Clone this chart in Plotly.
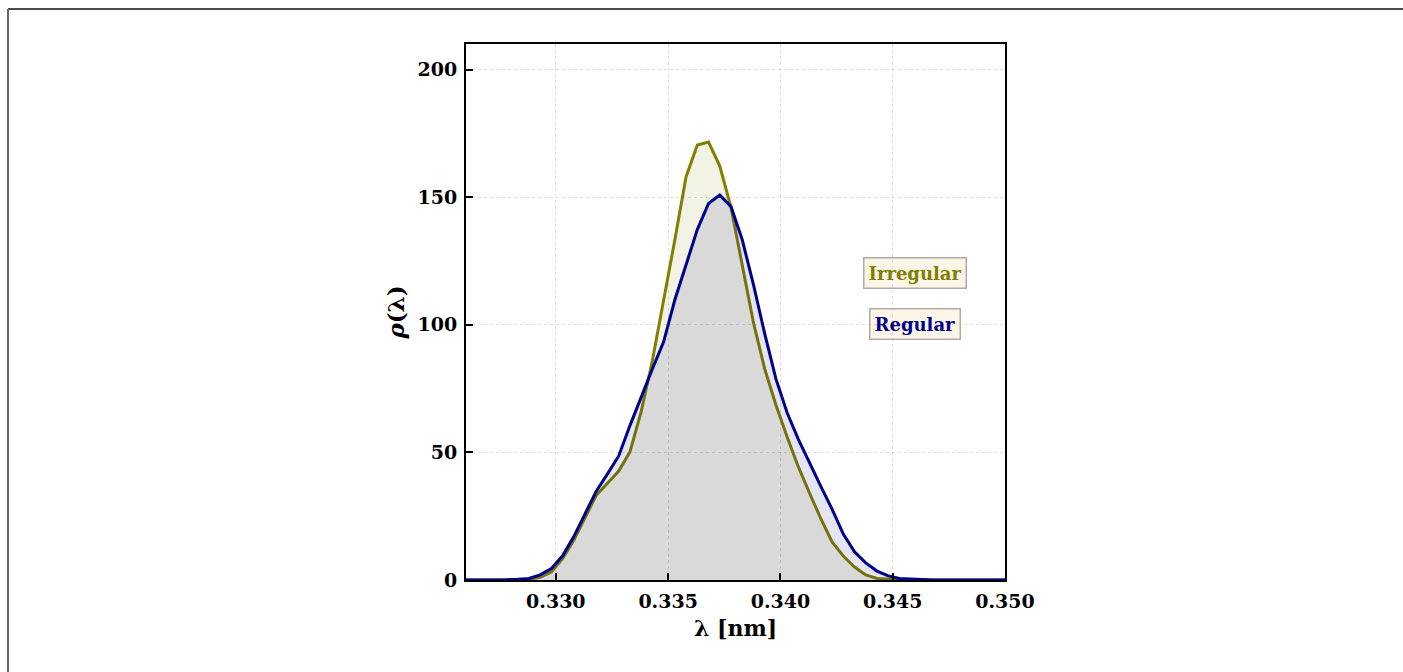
import plotly.graph_objects as go

# Wavelength grid [nm]
lam = [0.3258 + 0.0005 * k for k in range(50)]
lam = [round(v, 4) for v in lam]

# Density values
irregular = [0.0, 0.0, 0.0, 0.0, 0.05, 0.1, 0.3, 1.1, 3.1, 8.4,
             15.6, 24.4, 33.2, 37.9, 42.7, 50.2, 66.0, 86.0, 109.0, 133.3,
             158.0, 170.4, 171.6, 162.2, 146.0, 124.0, 100.8, 82.7, 68.6, 56.0,
             44.3, 34.0, 24.0, 14.9, 9.4, 5.1, 2.0, 0.6, 0.2, 0.05,
             0.0, 0.0, 0.0, 0.0, 0.0, 0.0, 0.0, 0.0, 0.0, 0.0]
regular = [0.0, 0.0, 0.0, 0.0, 0.1, 0.3, 0.6, 2.0, 4.5, 9.5,
           17.0, 25.9, 34.8, 41.6, 48.6, 60.5, 71.8, 82.7, 93.3, 109.8,
           123.5, 137.3, 147.5, 150.8, 146.3, 133.3, 115.7, 96.5, 78.8, 65.5,
           55.1, 45.6, 36.7, 27.8, 18.0, 11.0, 6.7, 3.5, 1.6, 0.6,
           0.3, 0.1, 0.0, 0.0, 0.0, 0.0, 0.0, 0.0, 0.0, 0.0]

x_ticks = [0.330, 0.335, 0.340, 0.345, 0.350]
x_tick_labels = ["0.330", "0.335", "0.340", "0.345", "0.350"]
y_ticks = [0, 50, 100, 150, 200]
y_tick_labels = ["0", "50", "100", "150", "200"]

series_names = ["Irregular", "Regular"]

FONT = "DejaVu Serif"

fig = go.Figure()
fig.add_trace(go.Scatter(
    x=lam, y=irregular, mode="lines", name=series_names[0],
    line=dict(color="#808000", width=3),
    fill="tozeroy", fillcolor="rgba(128,128,0,0.1)", showlegend=False))
fig.add_trace(go.Scatter(
    x=lam, y=regular, mode="lines", name=series_names[1],
    line=dict(color="#00008B", width=3),
    fill="tozeroy", fillcolor="rgba(0,0,128,0.1)", showlegend=False))

axis_common = dict(
    showline=True, linecolor="black", linewidth=2, mirror=True,
    ticks="inside", ticklen=7, tickwidth=2, tickcolor="black",
    showgrid=True, gridcolor="rgba(0,0,0,0.13)", gridwidth=1, griddash="dot",
    zeroline=False, ticklabelstandoff=3,
    tickfont=dict(family=FONT, size=19, color="black", weight="bold"),
)

fig.update_xaxes(
    range=[0.326, 0.350], tickvals=x_ticks, ticktext=x_tick_labels,
    title=dict(text="<b>λ [nm]</b>", font=dict(family=FONT, size=22, color="black"),
               standoff=10),
    **axis_common)
fig.update_yaxes(
    range=[0, 210], tickvals=y_ticks, ticktext=y_tick_labels,
    title=dict(text="<b><i>ρ</i>(λ)</b>", font=dict(family=FONT, size=23, color="black"),
               standoff=6),
    **axis_common)

# Legend-like text boxes
L, R, T, B = 466, 398, 44, 92
W, H = 1403 - L - R, 672 - T - B

def px2paper(px, py):
    return (px - L) / W, (672 - B - py) / H

colors = ["#808000", "#00008B"]
centers = [(915, 273), (915, 324)]
for name, col, (cx, cy) in zip(series_names, colors, centers):
    xp, yp = px2paper(cx, cy)
    fig.add_annotation(
        x=xp, y=yp, xref="paper", yref="paper", xanchor="center", yanchor="middle",
        text=f"<b>{name}</b>", showarrow=False,
        font=dict(family=FONT, size=18, color=col),
        bgcolor="rgba(245,222,179,0.3)", bordercolor="#b0aca4", borderwidth=1.5,
        borderpad=4)

# Outer frame lines (top and left)
x0, ytop = px2paper(8, 9)
x1, _ = px2paper(1403, 9)
_, ybot = px2paper(8, 672)
fig.add_shape(type="line", xref="paper", yref="paper", x0=x0, x1=x1, y0=ytop, y1=ytop,
              line=dict(color="#111111", width=1.5))
fig.add_shape(type="line", xref="paper", yref="paper", x0=x0, x1=x0, y0=ytop, y1=ybot,
              line=dict(color="#666666", width=2))

fig.update_layout(
    width=1403, height=672,
    margin=dict(l=L, r=R, t=T, b=B),
    paper_bgcolor="white", plot_bgcolor="white",
    font=dict(family=FONT, color="black"),
)

fig.write_html("out.html")
